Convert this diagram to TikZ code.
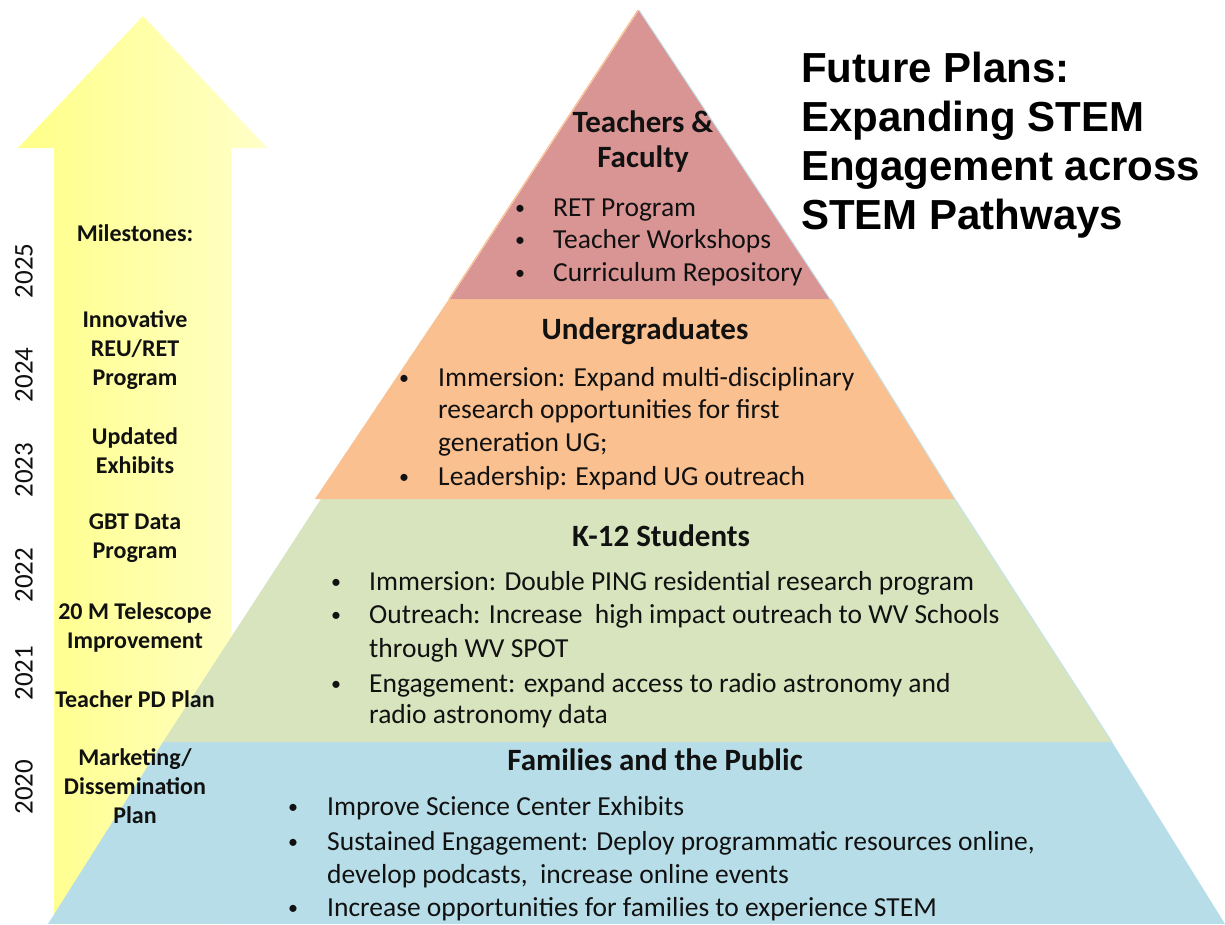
\documentclass[tikz,border=0pt]{standalone}
\usepackage{fontspec}
\setmainfont{Carlito}
\newfontfamily\titlefont{Liberation Sans}
\definecolor{arrowL}{HTML}{FFFF88}
\definecolor{arrowR}{HTML}{FFFFC8}
\definecolor{tierRed}{HTML}{D99594}
\definecolor{tierOrange}{HTML}{FAC090}
\definecolor{tierGreen}{HTML}{D7E4BD}
\definecolor{tierBlue}{HTML}{B7DEE8}
\definecolor{txt}{HTML}{111111}
\newcommand{\bul}[1]{\makebox[#1][l]{\hspace*{1pt}\raisebox{1.5pt}{\fontsize{20}{20}\selectfont •}}}
\begin{document}
\begin{tikzpicture}[x=1pt,y=-1pt,
  head/.style={font=\bfseries\fontsize{31}{35}\selectfont, inner sep=0pt, align=center, text=txt},
  item/.style={font=\fontsize{27.5}{33}\selectfont, inner sep=0pt, anchor=west, text height=19pt, text depth=6pt, text=txt, yshift=-2.5pt},
  mile/.style={font=\bfseries\fontsize{24}{29}\selectfont, inner sep=0pt, align=center, text=txt},
  year/.style={font=\fontsize{27}{30}\selectfont, inner sep=0pt, rotate=90, text=txt},
  title/.style={font=\titlefont\bfseries\fontsize{42}{49}\selectfont, inner sep=0pt, align=left, anchor=north west, text=black}
]
\fill[white] (0,0) rectangle (1225,924);
\path[use as bounding box] (0,0) rectangle (1225,924);

% timeline arrow
\shade[left color=arrowL, right color=arrowR]
  (143,16) -- (267,148) -- (231,148) -- (231,924) -- (54,924) -- (54,148) -- (18,148) -- cycle;

% pyramid tiers
\fill[tierBlue]   (163,742) -- (1112,742) -- (1225,924) -- (48,924) -- cycle;
\fill[tierGreen]  (321,499) -- (955,499) -- (1112,742) -- (163,742) -- cycle;
\fill[tierOrange] (449,299) -- (831,299) -- (955,499) -- (315,499) -- cycle;
\fill[tierRed]    (639,10) -- (830,299) -- (450,299) -- cycle;
\draw[tierBlue!80, line width=1pt] (639,10) -- (830,299) (831,299) -- (955,499) (955,499) -- (1112,742);
\draw[tierOrange, line width=1.2pt] (638,10) -- (449,299);

% title
\node[title] (title) at (801,52) {Future Plans:\\Expanding STEM\\Engagement across\\STEM Pathways};

% Teachers & Faculty
\node[head] (hTeach) at (643,142) {Teachers \&\\Faculty};
\node[item] (t1) at (514,207) {\bul{39pt}RET Program};
\node[item] (t2) at (514,239) {\bul{39pt}Teacher Workshops};
\node[item] (t3) at (514,272) {\bul{39pt}Curriculum Repository};

% Undergraduates
\node[head] (hUG) at (645,331) {Undergraduates};
\node[item] (u1) at (398,377) {\bul{40pt}Immersion: Expand multi-disciplinary};
\node[item] (u2) at (438,409) {research opportunities for first};
\node[item] (u3) at (438,442) {generation UG;};
\node[item] (u4) at (398,476) {\bul{40pt}Leadership: Expand UG outreach};

% K-12
\node[head] (hK12) at (661,536) {K-12 Students};
\node[item] (k1) at (330,581) {\bul{39pt}Immersion: Double PING residential research program};
\node[item] (k2) at (330,614) {\bul{39pt}Outreach: Increase\ \ high impact outreach to WV Schools};
\node[item] (k3) at (369,648) {through WV SPOT};
\node[item] (k4) at (330,683) {\bul{39pt}Engagement: expand access to radio astronomy and};
\node[item] (k5) at (369,714) {radio astronomy data};

% Families
\node[head] (hFam) at (655,760) {Families and the Public};
\node[item] (f1) at (287,806) {\bul{40pt}Improve Science Center Exhibits};
\node[item] (f2) at (287,841) {\bul{40pt}Sustained Engagement: Deploy programmatic resources online,};
\node[item] (f3) at (327,874) {develop podcasts,\ \ increase online events};
\node[item] (f4) at (287,907) {\bul{40pt}Increase opportunities for families to experience STEM};

% milestones
\node[mile] (m0) at (135,233) {Milestones:};
\node[mile] (m1) at (135,350) {Innovative\\REU/RET\\Program};
\node[mile] (m2) at (135,451) {Updated\\Exhibits};
\node[mile] (m3) at (135,538) {GBT Data\\Program};
\node[mile] (m4) at (135,627) {20 M Telescope\\Improvement};
\node[mile] (m5) at (135,699) {Teacher PD Plan};
\node[mile] (m6) at (135,786) {Marketing/\\Dissemination\\Plan};

% years
\node[year] (y25) at (24,271) {2025};
\node[year] (y24) at (24,375) {2024};
\node[year] (y23) at (24,470) {2023};
\node[year] (y22) at (24,575) {2022};
\node[year] (y21) at (24,673) {2021};
\node[year] (y20) at (24,787) {2020};
\end{tikzpicture}
\end{document}
